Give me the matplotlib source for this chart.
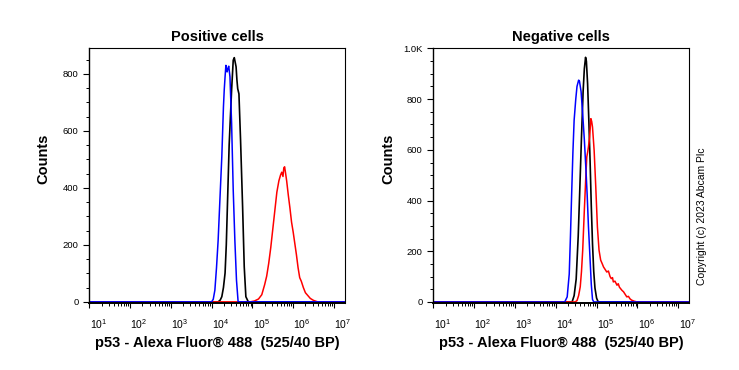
import numpy as np
import matplotlib
matplotlib.use('Agg')
import matplotlib.pyplot as plt
from matplotlib.ticker import FixedLocator, NullFormatter
from matplotlib.transforms import ScaledTranslation

plt.rcParams['font.family'] = ['Liberation Sans', 'DejaVu Sans']
plt.rcParams['mathtext.default'] = 'regular'

# --- datos (log10 de la intensidad, conteos) ---
# Positive cells
pos_blue_x = [1.0, 4.00, 4.04, 4.08, 4.12, 4.16, 4.21, 4.25, 4.29, 4.31, 4.33, 4.35, 4.37, 4.38, 4.40, 4.42, 4.45,
              4.49, 4.53, 4.57, 4.61, 4.65, 7.3]
pos_blue_y = [0, 0, 9, 41, 120, 216, 380, 509, 684, 745, 790, 830, 812, 807, 820, 827, 790,
              627, 392, 216, 76, 0, 0]

pos_black_x = [1.0, 4.16, 4.21, 4.25, 4.29, 4.33, 4.36, 4.38, 4.43, 4.49, 4.53, 4.556, 4.60, 4.62, 4.64, 4.67,
               4.71, 4.76, 4.80, 4.84, 4.90, 7.3]
pos_black_y = [0, 0, 6, 18, 50, 101, 200, 300, 550, 743, 848, 857, 825, 780, 748, 730,
               567, 333, 123, 18, 0, 0]

pos_red_x = [1.0, 4.95, 5.05, 5.15, 5.23, 5.30, 5.35, 5.40, 5.45, 5.50, 5.55, 5.60, 5.65, 5.69, 5.72, 5.75,
             5.77, 5.79, 5.81, 5.84, 5.88, 5.92, 5.96, 6.00, 6.04, 6.08, 6.12, 6.16, 6.20, 6.25, 6.30,
             6.36, 6.42, 6.50, 6.60, 7.3]
pos_red_y = [0, 0, 3, 10, 25, 60, 90, 135, 190, 255, 320, 385, 425, 445, 455, 440,
             470, 474, 455, 425, 375, 330, 280, 245, 205, 165, 120, 85, 72, 50, 32,
             22, 12, 5, 0, 0]

# Negative cells
neg_blue_x = [1.0, 4.22, 4.28, 4.33, 4.36, 4.39, 4.42, 4.45, 4.49, 4.52, 4.56, 4.58, 4.62, 4.66, 4.70, 4.74,
              4.77, 4.80, 4.84, 4.87, 4.90, 4.93, 7.3]
neg_blue_y = [0, 0, 20, 110, 260, 430, 590, 717, 800, 850, 875, 872, 830, 740, 640, 520,
              420, 300, 170, 70, 10, 0, 0]

neg_black_x = [1.0, 4.40, 4.45, 4.50, 4.55, 4.59, 4.63, 4.67, 4.70, 4.73, 4.75, 4.78, 4.81, 4.84, 4.87, 4.90,
               4.93, 4.96, 5.00, 5.04, 7.3]
neg_black_y = [0, 0, 25, 90, 260, 450, 650, 830, 920, 965, 950, 860, 717, 560, 380, 230,
               120, 55, 15, 0, 0]

neg_red_x = [1.0, 4.47, 4.52, 4.56, 4.60, 4.63, 4.66, 4.70, 4.74, 4.76, 4.78, 4.80, 4.83, 4.86, 4.88, 4.90,
             4.94, 4.98, 5.02, 5.06, 5.10, 5.14, 5.17, 5.21, 5.25, 5.29, 5.33, 5.36, 5.39, 5.41, 5.45,
             5.50, 5.53, 5.56, 5.60, 5.62, 5.66, 5.70, 5.74, 5.78, 5.82, 5.86, 5.92, 5.99, 7.3]
neg_red_y = [0, 0, 5, 25, 60, 120, 204, 362, 507, 572, 590, 611, 651, 723, 712, 690,
             598, 454, 296, 204, 165, 150, 138, 128, 118, 122, 100, 92, 96, 79, 82,
             66, 72, 58, 50, 46, 40, 30, 20, 22, 12, 7, 3, 0, 0]

decadas = [1, 2, 3, 4, 5, 6, 7]

fig = plt.figure(figsize=(7.39, 3.70), dpi=100)
fig.patch.set_facecolor('white')

paneles = [
    ([0.1208, 0.1819, 0.346, 0.6892], 'Positive cells', 892, -0.154,
     [0, 200, 400, 600, 800], ['0', '200', '400', '600', '800'],
     (pos_black_x, pos_black_y), (pos_red_x, pos_red_y), (pos_blue_x, pos_blue_y)),
    ([0.5863, 0.1819, 0.3464, 0.6892], 'Negative cells', 1003, -0.15,
     [0, 200, 400, 600, 800, 1000], ['0', '200', '400', '600', '800', '1.0K'],
     (neg_black_x, neg_black_y), (neg_red_x, neg_red_y), (neg_blue_x, neg_blue_y)),
]

for rect, titulo, ymax, xlab_y, yt, ytl, neg, roj, azul in paneles:
    ax = fig.add_axes(rect)
    ax.plot(10 ** np.array(neg[0]), neg[1], color='black', lw=1.2)
    ax.plot(10 ** np.array(roj[0]), roj[1], color='#ff0000', lw=1.1)
    ax.plot(10 ** np.array(azul[0]), azul[1], color='#0000ff', lw=1.1)

    ax.set_xscale('log')
    ax.set_xlim(10 ** 1, 10 ** 7.27)
    ax.set_ylim(-3, ymax)

    ax.xaxis.set_major_locator(FixedLocator([10.0 ** d for d in decadas]))
    ax.set_xticklabels([r'$10^{%d}$' % d for d in decadas])
    menores = [m * 10.0 ** d for d in decadas for m in range(2, 10)]
    ax.xaxis.set_minor_locator(FixedLocator(menores))
    ax.xaxis.set_minor_formatter(NullFormatter())

    ax.set_yticks(yt)
    ax.set_yticklabels(ytl)
    ax.yaxis.set_minor_locator(FixedLocator(np.arange(0, ymax, 50)))

    ax.tick_params(axis='both', which='major', direction='out', width=0.8)
    ax.tick_params(axis='y', which='major', length=4.3, pad=3.4, labelsize=6.8)
    ax.tick_params(axis='x', which='major', length=3.6, pad=7, labelsize=7.5)
    ax.tick_params(axis='both', which='minor', direction='out', length=2.0, width=0.7)

    off = ScaledTranslation(9 / 100, 0, fig.dpi_scale_trans)
    for lab in ax.get_xticklabels():
        lab.set_transform(lab.get_transform() + off)

    for s in ['top', 'right']:
        ax.spines[s].set_linewidth(0.8)
    ax.spines['left'].set_linewidth(1.0)
    ax.spines['bottom'].set_linewidth(1.4)

    ax.set_title(titulo, fontsize=10.5, fontweight='bold', pad=4.5)
    ax.set_ylabel('Counts', fontsize=10.5, fontweight='bold')
    ax.yaxis.set_label_coords(xlab_y, 0.563)
    ax.set_xlabel('p53 - Alexa Fluor\u00ae 488  (525/40 BP)', fontsize=10.5, fontweight='bold', labelpad=3.5)

fig.text(0.95, 0.416, 'Copyright (c) 2023 Abcam Plc', rotation=90, fontsize=7.5,
         ha='center', va='center')

fig.savefig('out.png', dpi=100, facecolor='white')
